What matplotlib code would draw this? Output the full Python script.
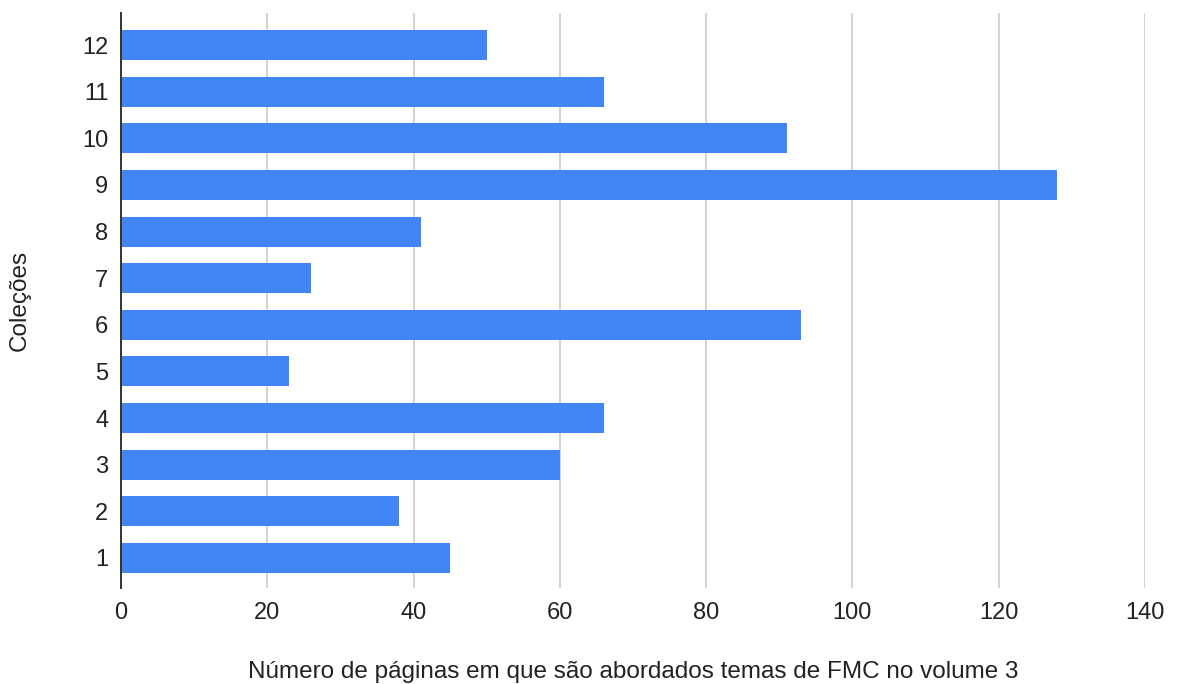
import matplotlib.pyplot as plt

colecoes = ['1', '2', '3', '4', '5', '6', '7', '8', '9', '10', '11', '12']
paginas = [45, 38, 60, 66, 23, 93, 26, 41, 128, 91, 66, 50]
x_ticks = [0, 20, 40, 60, 80, 100, 120, 140]

plt.rcParams['font.family'] = ['Liberation Sans', 'DejaVu Sans']

fig = plt.figure(figsize=(11.77, 6.84), dpi=100)
ax = fig.add_axes([0.1028, 0.1404, 0.8700, 0.8406])

pos = range(len(colecoes))
ax.barh(pos, paginas, height=0.644, color='#4285f4', zorder=3)

ax.set_xlim(0, 140)
ax.set_ylim(-0.644, 11.687)
ax.set_xticks(x_ticks)
ax.set_yticks(list(pos))
ax.set_yticklabels(colecoes)
ax.tick_params(axis='both', length=0, labelsize=17, colors='#222222')
ax.tick_params(axis='x', pad=10)
ax.tick_params(axis='y', pad=9)

ax.grid(axis='x', color='#cccccc', linewidth=1.2, zorder=0)
for s in ['top', 'right', 'bottom']:
    ax.spines[s].set_visible(False)
ax.spines['left'].set_color('#333333')
ax.spines['left'].set_linewidth(1.4)
ax.spines['left'].set_zorder(4)

ax.set_xlabel('Número de páginas em que são abordados temas de FMC no volume 3',
              fontsize=17.5, color='#222222', labelpad=27)
ax.set_ylabel('Coleções', fontsize=17.5, color='#222222', labelpad=37)

fig.savefig('out.png', dpi=100)
